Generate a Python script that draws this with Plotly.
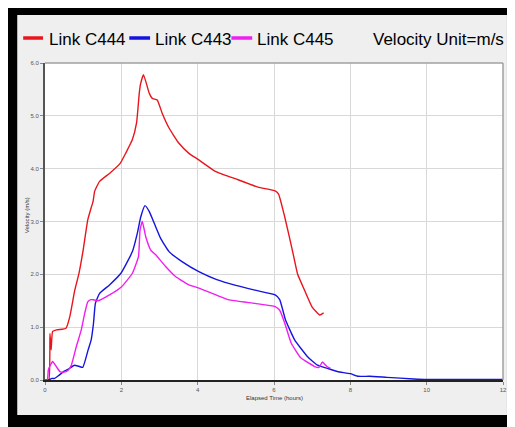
import plotly.graph_objects as go

# ---- data ----
t_c444 = [0, 0.1, 0.13, 0.16, 0.2, 0.3, 0.45, 0.55, 0.65, 0.78, 0.89, 1.0, 1.12, 1.21, 1.26, 1.3,
          1.43, 1.69, 1.97, 2.12, 2.29, 2.4, 2.47, 2.5, 2.58, 2.73, 2.81, 2.94, 3.07, 3.25, 3.51,
          3.77, 4.0, 4.46, 5.06, 5.58, 6.03, 6.12, 6.28, 6.48, 6.62, 6.8, 7.0, 7.2, 7.3]
v_c444 = [0, 0, 0.88, 0.57, 0.92, 0.95, 0.96, 0.98, 1.2, 1.7, 2.02, 2.46, 3.03, 3.26, 3.38, 3.57,
          3.76, 3.91, 4.1, 4.3, 4.55, 4.87, 5.43, 5.59, 5.78, 5.43, 5.33, 5.3, 5.05, 4.77, 4.48,
          4.29, 4.18, 3.95, 3.79, 3.65, 3.58, 3.52, 3.09, 2.46, 2.0, 1.7, 1.38, 1.23, 1.27]

t_c443 = [0, 0.1, 0.18, 0.25, 0.35, 0.47, 0.6, 0.77, 0.88, 0.99, 1.13, 1.21, 1.27, 1.32, 1.43,
          1.69, 1.99, 2.29, 2.42, 2.51, 2.62, 2.73, 2.86, 3.03, 3.25, 3.59, 4.03, 4.5, 5.0, 5.5,
          6.03, 6.15, 6.3, 6.54, 6.88, 7.14, 7.4, 7.66, 8.0, 8.2, 8.5, 8.96, 9.66, 10.0, 12.0]
v_c443 = [0, 0, 0.03, 0.03, 0.08, 0.15, 0.2, 0.28, 0.26, 0.24, 0.57, 0.76, 1.07, 1.45, 1.64,
          1.8, 2.02, 2.43, 2.78, 3.09, 3.3, 3.19, 2.97, 2.68, 2.43, 2.24, 2.05, 1.9, 1.79, 1.7,
          1.61, 1.52, 1.14, 0.76, 0.44, 0.28, 0.22, 0.16, 0.12, 0.07, 0.07, 0.05, 0.02, 0.01, 0.01]

t_c445 = [0, 0.06, 0.09, 0.2, 0.3, 0.39, 0.5, 0.6, 0.69, 0.82, 0.95, 1.04, 1.12, 1.2, 1.26, 1.39,
          1.69, 2.0, 2.29, 2.45, 2.49, 2.55, 2.64, 2.77, 2.9, 3.16, 3.42, 3.77, 4.03, 4.8, 5.5,
          6.03, 6.15, 6.28, 6.45, 6.7, 7.08, 7.18, 7.27, 7.38, 7.48]
v_c445 = [0, 0, 0.2, 0.35, 0.25, 0.16, 0.15, 0.18, 0.28, 0.63, 0.95, 1.26, 1.48, 1.52, 1.52, 1.5,
          1.61, 1.76, 2.02, 2.34, 2.84, 3.0, 2.71, 2.46, 2.37, 2.15, 1.96, 1.8, 1.74, 1.52, 1.45,
          1.39, 1.32, 1.08, 0.7, 0.42, 0.25, 0.24, 0.34, 0.26, 0.22]

series_names = ["Link C444", "Link C443", "Link C445"]
series_colors = ["#e8161c", "#1414e0", "#f01ef0"]
x_ticks = [0, 2, 4, 6, 8, 10, 12]
y_ticks = [0, 1, 2, 3, 4, 5, 6]
x_title = "Elapsed Time (hours)"
y_title = "Velocity (m/s)"
unit_text = "Velocity Unit=m/s"

# ---- figure geometry (page pixels; the page body adds an 8px offset) ----
OFF = 8
W, H = 507, 419
PL, PR, PT, PB = 45, 507, 63, 380          # plot area in page pixels
ML, MR, MT, MB = PL - OFF, OFF + W - PR, PT - OFF, OFF + H - PB
PW, PH = PR - PL, PB - PT


def px(x):
    return (x - PL) / PW


def py(y):
    return (PB - y) / PH


fig = go.Figure()
for t, v, name, col in zip([t_c444, t_c443, t_c445], [v_c444, v_c443, v_c445],
                           series_names, series_colors):
    fig.add_trace(go.Scatter(x=t, y=v, mode="lines", name=name,
                             line=dict(color=col, width=1.4, shape="spline", smoothing=0.4),
                             showlegend=False))

shapes = [
    dict(type="rect", xref="paper", yref="paper", x0=px(17), x1=px(511), y0=py(415), y1=py(15),
         fillcolor="#efefef", line=dict(width=0), layer="below"),
    dict(type="rect", xref="paper", yref="paper", x0=0, x1=1, y0=0, y1=1,
         fillcolor="white", line=dict(width=0), layer="below"),
    dict(type="line", xref="paper", yref="paper", x0=0, x1=1, y0=1, y1=1,
         line=dict(color="#a0a0a0", width=1.5)),
    dict(type="line", xref="paper", yref="paper", x0=1, x1=1, y0=0, y1=1,
         line=dict(color="#a0a0a0", width=1.5)),
]

LEG_FONT = dict(family="Liberation Sans, Arial", size=17, color="black")
annotations = []
legend_pos = [(23, 43, 47), (130, 151, 154), (233, 254, 257)]
ly = 38
for (x0, x1, xt), name, col in zip(legend_pos, series_names, series_colors):
    shapes.append(dict(type="line", xref="paper", yref="paper", x0=px(x0), x1=px(x1),
                       y0=py(ly), y1=py(ly), line=dict(color=col, width=3.5)))
    annotations.append(dict(text=name, xref="paper", yref="paper", x=px(xt), y=py(ly + 1),
                            xanchor="left", yanchor="middle", showarrow=False, font=LEG_FONT))
annotations.append(dict(text=unit_text, xref="paper", yref="paper", x=px(510), y=py(ly + 1),
                        xanchor="right", yanchor="middle", showarrow=False, font=LEG_FONT))
annotations.append(dict(text=x_title, xref="paper", yref="paper", x=0.5, y=py(398),
                        xanchor="center", yanchor="middle", showarrow=False,
                        font=dict(family="Liberation Sans, Arial", size=6, color="#333")))
annotations.append(dict(text=y_title, xref="paper", yref="paper", x=px(27), y=py(215),
                        xanchor="center", yanchor="middle", showarrow=False, textangle=-90,
                        font=dict(family="Liberation Sans, Arial", size=6, color="#333")))

fig.update_layout(
    width=W, height=H,
    margin=dict(l=ML, r=MR, t=MT, b=MB, pad=0),
    paper_bgcolor="black", plot_bgcolor="white",
    shapes=shapes, annotations=annotations,
    xaxis=dict(range=[0, 12], tickvals=x_ticks, ticktext=[str(v) for v in x_ticks],
               showgrid=True, gridcolor="#d9d9d9", gridwidth=1, zeroline=False,
               showline=True, linecolor="#222", linewidth=2,
               ticks="outside", ticklen=3, tickcolor="#888", tickwidth=1,
               tickfont=dict(family="Liberation Sans, Arial", size=6, color="#555")),
    yaxis=dict(range=[0, 6], tickvals=y_ticks, ticktext=["%.1f" % v for v in y_ticks],
               showgrid=True, gridcolor="#d9d9d9", gridwidth=1, zeroline=False,
               showline=True, linecolor="#555", linewidth=2,
               ticks="outside", ticklen=3, tickcolor="#888", tickwidth=1,
               tickfont=dict(family="Liberation Sans, Arial", size=6, color="#555")),
)

fig.write_html("out.html")
